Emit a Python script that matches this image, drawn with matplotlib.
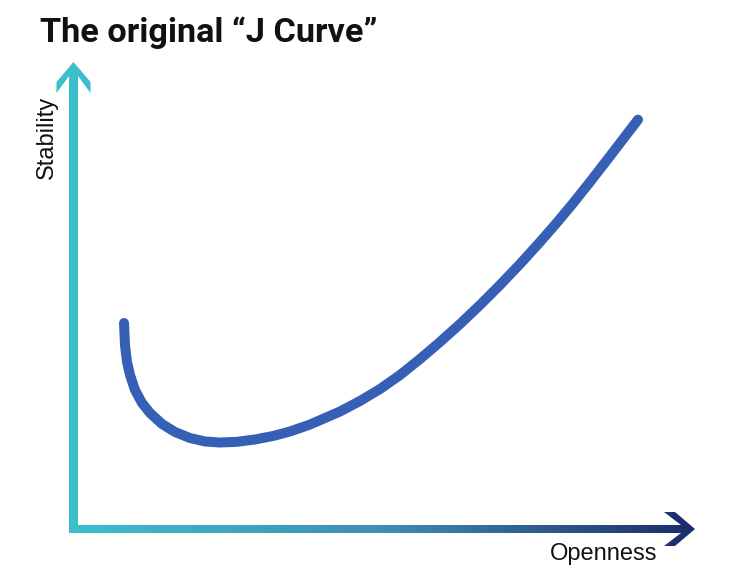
import numpy as np
import matplotlib
matplotlib.use("Agg")
import matplotlib.pyplot as plt
from matplotlib.patches import Polygon
from matplotlib.colors import LinearSegmentedColormap

# J curve (arbitrary units)
openness = [0.867, 0.883, 0.917, 0.967, 1.050, 1.167, 1.300, 1.500, 1.717,
            1.967, 2.217, 2.467, 2.750, 3.050, 3.350, 3.633, 3.967, 4.467,
            4.800, 5.133, 5.467, 5.800, 6.133, 6.467, 6.800, 7.133, 7.467,
            7.800, 8.083, 8.350, 8.633, 8.917, 9.167, 9.433]
stability = [4.600, 4.111, 3.733, 3.444, 3.111, 2.822, 2.600, 2.356, 2.178,
             2.044, 1.967, 1.944, 1.960, 2.011, 2.089, 2.189, 2.344, 2.633,
             2.867, 3.133, 3.444, 3.800, 4.178, 4.578, 5.000, 5.444, 5.911,
             6.400, 6.833, 7.260, 7.733, 8.222, 8.656, 9.118]

title = "The original \u201cJ Curve\u201d"
x_label = "Openness"
y_label = "Stability"

W, H = 747, 576
fig = plt.figure(figsize=(W / 100, H / 100), dpi=100)

# decoration layer in pixel coordinates
deco = fig.add_axes([0, 0, 1, 1])
deco.axis("off")

cyan = "#3bbfca"
navy = "#1d2b69"
cmap = LinearSegmentedColormap.from_list("axis", [cyan, "#3f8fb0", navy])

x_arrow = [(69, 525), (681, 525), (664, 512), (675, 512), (695, 529),
           (675, 546), (664, 546), (681, 533), (69, 533)]
clip = Polygon(x_arrow, closed=True, fc="none", ec="none")
deco.add_patch(clip)
grad = np.linspace(0, 1, 256).reshape(1, -1)
im = deco.imshow(grad, extent=(69, 695, 546, 512), cmap=cmap, aspect="auto",
                 interpolation="bilinear")
im.set_clip_path(clip)

y_arrow = [(69, 533), (69, 76), (56.5, 93), (56.5, 82), (73.5, 62),
           (90.5, 82), (90.5, 93), (78, 76), (78, 533)]
deco.add_patch(Polygon(y_arrow, closed=True, fc=cyan, ec="none"))

deco.set_xlim(0, W)
deco.set_ylim(H, 0)

deco.text(604, 560, x_label, ha="center", va="baseline", fontsize=17,
          family="Liberation Sans", color="#111111")
deco.text(53, 137, y_label, ha="center", va="baseline", rotation=90,
          rotation_mode="anchor", fontsize=17, family="Liberation Sans",
          color="#111111")

t = deco.text(40, 42, title, ha="left", va="baseline", fontsize=22,
              fontweight="bold", family="Roboto", color="#111111")
fig.canvas.draw()
bb = t.get_window_extent()
t.set_fontsize(22 * 338 / bb.width)

# data layer
ax = fig.add_axes([0, 0, 1, 1])
ax.patch.set_alpha(0)
ax.axis("off")
ax.plot(openness, stability, color="#3560b5", lw=7.2,
        solid_capstyle="round", solid_joinstyle="round")
ax.set_xlim(-72 / 60, (W - 72) / 60)
ax.set_ylim((530 - H) / 45, 530 / 45)

fig.savefig("out.png", dpi=100)
